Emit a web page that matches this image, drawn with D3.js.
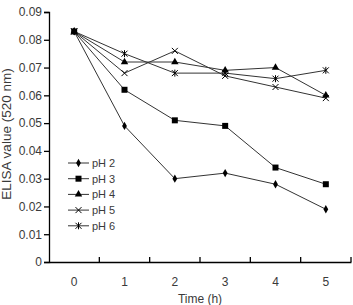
<!DOCTYPE html>
<html>
<head>
<meta charset="utf-8">
<script src="https://cdn.jsdelivr.net/npm/d3@7"></script>
<style>
  body { margin: 0; background: #fff; }
  svg text { font-family: "Liberation Sans", Arial, sans-serif; fill: #3a3a3a; }
</style>
</head>
<body>
<div id="chart"></div>
<script>
const hours = ["0", "1", "2", "3", "4", "5"];
const pH2 = [0.083, 0.049, 0.030, 0.032, 0.028, 0.019];
const pH3 = [0.083, 0.062, 0.051, 0.049, 0.034, 0.028];
const pH4 = [0.083, 0.072, 0.072, 0.069, 0.070, 0.060];
const pH5 = [0.083, 0.068, 0.076, 0.067, 0.063, 0.059];
const pH6 = [0.083, 0.075, 0.068, 0.068, 0.066, 0.069];
const seriesNames = ["pH 2", "pH 3", "pH 4", "pH 5", "pH 6"];
const yTicks = [0, 0.01, 0.02, 0.03, 0.04, 0.05, 0.06, 0.07, 0.08, 0.09];

const series = [
  { name: seriesNames[0], values: pH2, mark: "diamond" },
  { name: seriesNames[1], values: pH3, mark: "square" },
  { name: seriesNames[2], values: pH4, mark: "triangle" },
  { name: seriesNames[3], values: pH5, mark: "x" },
  { name: seriesNames[4], values: pH6, mark: "star" }
];

const margin = { top: 12, right: 2, bottom: 43, left: 49 };
const outerWidth = 353;
const outerHeight = 305;
const width = outerWidth - margin.left - margin.right;
const height = outerHeight - margin.top - margin.bottom;

const svg = d3.select("#chart")
  .append("svg")
  .attr("width", outerWidth)
  .attr("height", outerHeight)
  .append("g")
  .attr("transform", `translate(${margin.left},${margin.top})`);

const x = d3.scaleBand().domain(hours).range([0, width]).padding(0);
const y = d3.scaleLinear().domain([0, 0.09]).range([height, 0]);

// y axis
const yAxis = svg.append("g")
  .call(d3.axisLeft(y).tickValues(yTicks).tickSize(5).tickPadding(2)
    .tickFormat(d => d === 0 ? "0" : d.toFixed(2)));
yAxis.selectAll("text").style("font-size", "12px");
yAxis.selectAll("line, path").attr("stroke", "#000").attr("stroke-width", 1.3);

// x axis: labels at band centres, ticks at band edges pointing up
const xAxis = svg.append("g")
  .attr("transform", `translate(0,${height})`)
  .call(d3.axisBottom(x).tickSize(0).tickPadding(15));
xAxis.selectAll("text").style("font-size", "12px");
xAxis.select(".domain").attr("stroke", "#000").attr("stroke-width", 1.3);
svg.append("g")
  .selectAll("line")
  .data(hours)
  .enter()
  .append("line")
  .attr("x1", d => x(d) + x.bandwidth())
  .attr("x2", d => x(d) + x.bandwidth())
  .attr("y1", height)
  .attr("y2", height - 5)
  .attr("stroke", "#000")
  .attr("stroke-width", 1.3);

// axis titles
svg.append("text")
  .attr("x", width / 2)
  .attr("y", height + 41)
  .attr("text-anchor", "middle")
  .style("font-size", "12px")
  .text("Time (h)");
svg.append("text")
  .attr("transform", `translate(${-38},${height / 2 - 3}) rotate(-90)`)
  .attr("text-anchor", "middle")
  .style("font-size", "13.5px")
  .text("ELISA value (520 nm)");

function drawMarker(g, mark) {
  if (mark === "diamond") {
    g.append("path").attr("d", d3.symbol(d3.symbolDiamond, 20)()).attr("fill", "#000");
  } else if (mark === "square") {
    g.append("path").attr("d", d3.symbol(d3.symbolSquare, 36)()).attr("fill", "#000");
  } else if (mark === "triangle") {
    g.append("path").attr("d", d3.symbol(d3.symbolTriangle, 24)()).attr("fill", "#000");
  } else {
    g.append("path").attr("d", "M-3,-3L3,3M-3,3L3,-3").attr("stroke", "#000").attr("fill", "none");
    if (mark === "star") {
      g.append("path").attr("d", "M0,-3.5L0,3.5").attr("stroke", "#000").attr("fill", "none");
    }
  }
}

const line = d3.line()
  .x((d, i) => x(hours[i]) + x.bandwidth() / 2)
  .y(d => y(d));

series.forEach(s => {
  svg.append("path")
    .datum(s.values)
    .attr("fill", "none")
    .attr("stroke", "#333")
    .attr("stroke-width", 1)
    .attr("d", line);
});

// markers; squares last so the shared start point shows a square
[0, 2, 3, 4, 1].forEach(k => {
  const s = series[k];
  svg.append("g")
    .selectAll("g")
    .data(s.values)
    .enter()
    .append("g")
    .attr("transform", (d, i) => `translate(${x(hours[i]) + x.bandwidth() / 2},${y(d)})`)
    .each(function () { drawMarker(d3.select(this), s.mark); });
});

// legend
const legend = svg.append("g").attr("transform", "translate(19,151)");
series.forEach((s, i) => {
  const row = legend.append("g").attr("transform", `translate(0,${i * 15.7})`);
  row.append("line").attr("x1", 0).attr("x2", 21).attr("y1", 0).attr("y2", 0)
    .attr("stroke", "#333").attr("stroke-width", 1);
  const m = row.append("g").attr("transform", "translate(10.5,0)");
  drawMarker(m, s.mark);
  row.append("text").attr("x", 24).attr("y", 4).style("font-size", "11px").text(s.name);
});
</script>
</body>
</html>
